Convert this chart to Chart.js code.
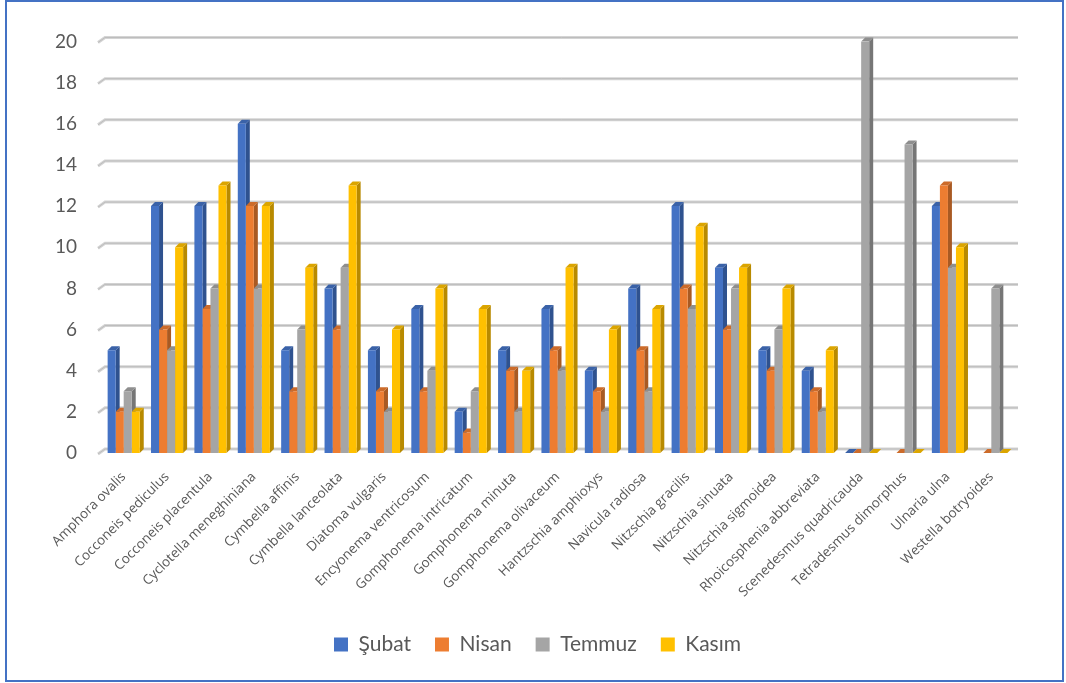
<!DOCTYPE html>
<html>
<head>
<meta charset="utf-8">
<script src="https://cdn.jsdelivr.net/npm/chart.js@4.4.1/dist/chart.umd.min.js"></script>
<style>
    html, body { margin: 0; padding: 0; background: #fff; }
    #chart { display: block; }
</style>
</head>
<body>
<canvas id="chart" width="1066" height="683"></canvas>
<script>
const species = [
    'Amphora ovalis', 'Cocconeis pediculus', 'Cocconeis placentula', 'Cyclotella meneghiniana',
    'Cymbella affinis', 'Cymbella lanceolata', 'Diatoma vulgaris', 'Encyonema ventricosum',
    'Gomphonema intricatum', 'Gomphonema minuta', 'Gomphonema olivaceum', 'Hantzschia amphioxys',
    'Navicula radiosa', 'Nitzschia gracilis', 'Nitzschia sinuata', 'Nitzschia sigmoidea',
    'Rhoicosphenia abbreviata', 'Scenedesmus quadricauda', 'Tetradesmus dimorphus', 'Ulnaria ulna',
    'Westella botryoides'
];

const subat  = [5, 12, 12, 16, 5, 8, 5, 7, 2, 5, 7, 4, 8, 12, 9, 5, 4, 0, null, 12, null];
const nisan  = [2, 6, 7, 12, 3, 6, 3, 3, 1, 4, 5, 3, 5, 8, 6, 4, 3, 0, 0, 13, 0];
const temmuz = [3, 5, 8, 8, 6, 9, 2, 4, 3, 2, 4, 2, 3, 7, 8, 6, 2, 20, 15, 9, 8];
const kasim  = [2, 10, 13, 12, 9, 13, 6, 8, 7, 4, 9, 6, 7, 11, 9, 8, 5, 0, 0, 10, 0];

const yTicks = [0, 2, 4, 6, 8, 10, 12, 14, 16, 18, 20];

// front, side, top colours per series
const shades = [
    ['#4472C4', '#2F528F', '#3A62A8'],
    ['#ED7D31', '#A95A23', '#CC6B2A'],
    ['#A5A5A5', '#767676', '#8E8E8E'],
    ['#FFC000', '#B88A00', '#DBA500']
];
const DX = 4, DY = 4;

// depth faces and back-wall gridlines, drawn before the bar fronts
const depth3d = {
    id: 'depth3d',
    afterLayout(chart) {
        // legend sits centred under the whole frame, not under the plot
        chart.legend.left += 31;
        chart.legend.right += 31;
    },
    beforeDatasetsDraw(chart) {
        const ctx = chart.ctx;
        const area = chart.chartArea;
        const y = chart.scales.y;
        ctx.save();
        y.ticks.forEach(t => {
            const py = y.getPixelForValue(t.value);
            ctx.strokeStyle = '#d4d4d4';
            ctx.lineWidth = 3;
            ctx.beginPath();
            ctx.moveTo(area.left - 4, py + 1);
            ctx.lineTo(area.left + 3, py - DY);
            ctx.lineTo(area.right + 5, py - DY);
            ctx.stroke();
            ctx.strokeStyle = '#bdbdbd';
            ctx.lineWidth = 1;
            ctx.stroke();
        });
        chart.data.datasets.forEach((ds, i) => {
            const meta = chart.getDatasetMeta(i);
            meta.data.forEach((bar, j) => {
                if (ds.data[j] === null) return;
                const {x, y: top, base, width} = bar.getProps(['x', 'y', 'base', 'width'], true);
                const l = x - width / 2, r = x + width / 2;
                ctx.fillStyle = shades[i][1];
                ctx.beginPath();
                ctx.moveTo(r, top);
                ctx.lineTo(r + DX, top - DY);
                ctx.lineTo(r + DX, base - DY);
                ctx.lineTo(r, base);
                ctx.closePath();
                ctx.fill();
                ctx.fillStyle = shades[i][2];
                ctx.beginPath();
                ctx.moveTo(l, top);
                ctx.lineTo(l + DX, top - DY);
                ctx.lineTo(r + DX, top - DY);
                ctx.lineTo(r, top);
                ctx.closePath();
                ctx.fill();
            });
        });
        ctx.restore();
    },
    afterDraw(chart) {
        const ctx = chart.ctx;
        ctx.save();
        ctx.strokeStyle = '#4472C4';
        ctx.lineWidth = 2;
        ctx.strokeRect(6, 1, 1057, 680);
        ctx.restore();
    }
};

const ctx = document.getElementById('chart').getContext('2d');

new Chart(ctx, {
    type: 'bar',
    data: {
        labels: species,
        datasets: [
            {label: 'Şubat', data: subat, backgroundColor: shades[0][0]},
            {label: 'Nisan', data: nisan, backgroundColor: shades[1][0]},
            {label: 'Temmuz', data: temmuz, backgroundColor: shades[2][0]},
            {label: 'Kasım', data: kasim, backgroundColor: shades[3][0]}
        ]
    },
    options: {
        responsive: false,
        animation: false,
        datasets: {
            bar: {
                categoryPercentage: 0.74,
                barPercentage: 1.0,
                borderWidth: 0
            }
        },
        layout: {
            padding: {left: 0, right: 53, top: 41.5, bottom: 18}
        },
        plugins: {
            legend: {
                display: true,
                position: 'bottom',
                labels: {
                    boxWidth: 14,
                    boxHeight: 14,
                    padding: 24,
                    color: '#595959',
                    font: {family: 'Lato, sans-serif', size: 21}
                }
            },
            tooltip: {enabled: false}
        },
        scales: {
            x: {
                grid: {display: false, drawTicks: false},
                border: {display: false},
                ticks: {
                    autoSkip: false,
                    minRotation: 45,
                    maxRotation: 45,
                    padding: 16,
                    color: '#595959',
                    font: {family: '"Open Sans", sans-serif', size: 13.5}
                },
                afterFit(scale) { scale.height = 157; }
            },
            y: {
                min: 0,
                max: 20,
                grid: {display: false, drawTicks: false},
                border: {display: false},
                afterBuildTicks(scale) {
                    scale.ticks = yTicks.map(v => ({value: v}));
                },
                ticks: {
                    padding: 25,
                    color: '#595959',
                    font: {family: 'Lato, sans-serif', size: 19}
                },
                afterFit(scale) { scale.width = 102; }
            }
        }
    },
    plugins: [depth3d]
});
</script>
</body>
</html>
